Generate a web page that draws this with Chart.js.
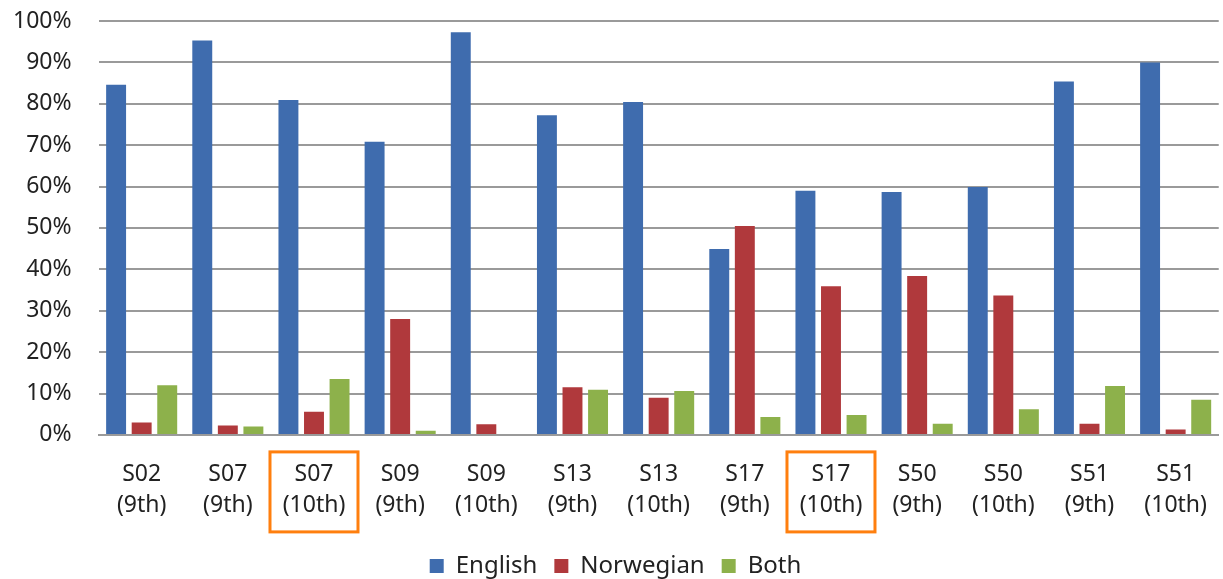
<!DOCTYPE html>
<html lang="en">
  <head>
    <meta charset="UTF-8" />
    <title>Language use by school</title>
    <style>
      html, body { margin: 0; padding: 0; background: #fff; }
      #wrap { width: 1223px; height: 579px; }
    </style>
  </head>
  <body>
    <div id="wrap"><canvas id="langChart"></canvas></div>
    <script src="https://cdn.jsdelivr.net/npm/chart.js"></script>
    <script>
      // categories (school + grade), two lines each
      const schools = ["S02", "S07", "S07", "S09", "S09", "S13", "S13", "S17", "S17", "S50", "S50", "S51", "S51"];
      const grades = ["(9th)", "(9th)", "(10th)", "(9th)", "(10th)", "(9th)", "(10th)", "(9th)", "(10th)", "(9th)", "(10th)", "(9th)", "(10th)"];

      // shares in percent
      const english = [84.6, 95.3, 80.9, 70.8, 97.3, 77.2, 80.4, 44.9, 59.0, 58.7, 59.9, 85.4, 90.0];
      const norwegian = [3.0, 2.3, 5.6, 28.0, 2.6, 11.5, 9.0, 50.5, 35.9, 38.4, 33.7, 2.7, 1.3];
      const both = [12.0, 2.0, 13.5, 1.0, 0, 10.9, 10.6, 4.3, 4.8, 2.7, 6.2, 11.8, 8.5];

      // categories marked with an orange frame
      const highlighted = [2, 8];

      const labels = schools.map((s, i) => [s, grades[i]]);
      const fontFamily = "'Noto Sans', 'Liberation Sans', sans-serif";

      // orange frames around the highlighted tick labels
      const frameLabels = {
        id: "frameLabels",
        afterDraw(chart) {
          const ctx = chart.ctx;
          const x = chart.scales.x;
          const area = chart.chartArea;
          ctx.save();
          ctx.strokeStyle = "#ff7f0e";
          ctx.lineWidth = 3;
          highlighted.forEach((i) => {
            const cx = x.getPixelForValue(i);
            ctx.strokeRect(cx - 44, area.bottom + 17, 88, 80);
          });
          ctx.restore();
        },
      };

      new Chart(document.getElementById("langChart"), {
        type: "bar",
        data: {
          labels: labels,
          datasets: [
            { label: "English", data: english, backgroundColor: "#3f6cae" },
            { label: "Norwegian", data: norwegian, backgroundColor: "#b0393c" },
            { label: "Both", data: both, backgroundColor: "#8db14b" },
          ],
        },
        options: {
          responsive: true,
          maintainAspectRatio: false,
          animation: false,
          categoryPercentage: 0.89,
          barPercentage: 0.78,
          layout: { padding: { left: 9, right: 1, top: 21, bottom: -9 } },
          plugins: {
            legend: {
              position: "bottom",
              labels: {
                boxWidth: 14,
                boxHeight: 14,
                padding: 17,
                color: "#222",
                font: { family: fontFamily, size: 24 },
              },
            },
            tooltip: { enabled: false },
          },
          scales: {
            x: {
              grid: { display: false },
              border: { color: "#9a9a9a", width: 2 },
              ticks: {
                color: "#222",
                padding: 16,
                maxRotation: 0,
                autoSkip: false,
                font: { family: fontFamily, size: 23, lineHeight: 1.35 },
              },
            },
            y: {
              min: 0,
              max: 100,
              border: { display: false },
              grid: { color: "#9a9a9a", lineWidth: 2, tickLength: 23, tickColor: "rgba(0,0,0,0)" },
              ticks: {
                stepSize: 10,
                padding: 4,
                color: "#222",
                callback: (v) => v + "%",
                font: { family: fontFamily, size: 23 },
              },
            },
          },
        },
        plugins: [frameLabels],
      });
    </script>
  </body>
</html>
